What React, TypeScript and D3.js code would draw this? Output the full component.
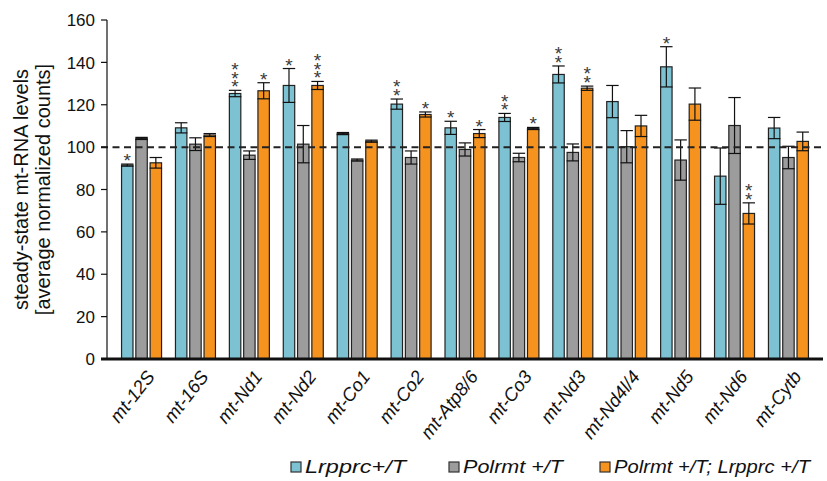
import React from 'react';
import * as d3 from 'd3';

const genes = ['mt-12S', 'mt-16S', 'mt-Nd1', 'mt-Nd2', 'mt-Co1', 'mt-Co2', 'mt-Atp8/6', 'mt-Co3', 'mt-Nd3', 'mt-Nd4l/4', 'mt-Nd5', 'mt-Nd6', 'mt-Cytb'];
const seriesNames = ['Lrpprc+/T', 'Polrmt +/T', 'Polrmt +/T; Lrpprc +/T'];
const seriesColors = ['#7dc2d2', '#9c9c9c', '#f6921e'];

// mean values per gene
const lrpprc = [91.5, 109.1, 125.3, 129.1, 106.4, 120.3, 109.1, 114, 134.3, 121.5, 137.9, 86.3, 109];
const polrmt = [104.1, 101.4, 96.2, 101.4, 93.9, 95.1, 98.9, 95.1, 97.5, 100.2, 93.9, 110.2, 95.1];
const double = [92.6, 105.7, 126.6, 129.1, 102.8, 115.4, 106.4, 108.8, 127.8, 110, 120.3, 68.7, 102.7];

// error (+/-)
const lrpprcErr = [0.5, 2.4, 1.5, 8, 0.5, 2.4, 3.1, 1.9, 4, 7.6, 9.5, 13.3, 5];
const polrmtErr = [0.5, 3, 2, 8.8, 0.5, 3.1, 3.1, 2, 4, 7.6, 9.5, 13.2, 5.3];
const doubleErr = [2.5, 0.7, 3.8, 1.9, 0.5, 1.2, 1.9, 0.5, 1, 5, 7.6, 5, 4.4];

// number of significance stars
const lrpprcStars = [1, 0, 3, 1, 0, 2, 1, 2, 2, 0, 1, 0, 0];
const polrmtStars = [0, 0, 0, 0, 0, 0, 0, 0, 0, 0, 0, 0, 0];
const doubleStars = [0, 0, 1, 3, 0, 1, 1, 1, 2, 0, 0, 2, 0];

const yTicks = [0, 20, 40, 60, 80, 100, 120, 140, 160];

const W = 827;
const H = 481;

export default function App() {
  const left = 107;
  const right = 823;
  const y = d3.scaleLinear().domain([0, 160]).range([359, 20]);
  const x0 = d3.scaleBand().domain(genes).range([left, right]).paddingInner(0.258).paddingOuter(0.27);
  const x1 = d3.scaleBand().domain(seriesNames).range([0, x0.bandwidth()]).paddingInner(0.2);

  const values = [lrpprc, polrmt, double];
  const errs = [lrpprcErr, polrmtErr, doubleErr];
  const stars = [lrpprcStars, polrmtStars, doubleStars];

  const font = 'Liberation Sans, Arial, Helvetica, sans-serif';
  const starSize = 19;

  return (
    <svg width={W} height={H} style={{ position: 'absolute', left: 0, top: 0 }} fontFamily={font}>
      <rect width={W} height={H} fill="#fff" />

      {/* bars */}
      {genes.map((g, gi) => (
        <g key={g} transform={`translate(${x0(g)},0)`}>
          {seriesNames.map((s, si) => {
            const v = values[si][gi];
            const e = errs[si][gi];
            const bx = x1(s)!;
            const bw = x1.bandwidth();
            const cx = bx + bw / 2;
            const top = y(v + e);
            const n = stars[si][gi];
            return (
              <g key={s}>
                <rect x={bx} y={y(v)} width={bw} height={y(0) - y(v)} fill={seriesColors[si]} stroke="#222" strokeWidth={1.2} />
                <line x1={cx} x2={cx} y1={y(v + e)} y2={y(v - e)} stroke="#111" strokeWidth={1.2} />
                <line x1={cx - bw / 2 - 0.5} x2={cx + bw / 2 + 0.5} y1={y(v + e)} y2={y(v + e)} stroke="#111" strokeWidth={1.2} />
                <line x1={cx - bw / 2 - 0.5} x2={cx + bw / 2 + 0.5} y1={y(v - e)} y2={y(v - e)} stroke="#111" strokeWidth={1.2} />
                {d3.range(n).map((k) => (
                  <text key={k} x={cx} y={top - 8 - k * 8.7 + starSize * 0.58} textAnchor="middle" fontSize={starSize} fill="#3a3a3a">*</text>
                ))}
              </g>
            );
          })}
        </g>
      ))}

      {/* reference line at 100 */}
      <line x1={101} x2={right} y1={y(100)} y2={y(100)} stroke="#222" strokeWidth={2} strokeDasharray="7 4.5" />

      {/* y axis */}
      <line x1={left} x2={left} y1={y(160)} y2={y(0)} stroke="#111" strokeWidth={1.2} />
      {yTicks.map((t) => (
        <g key={t} transform={`translate(${left},${y(t)})`}>
          <line x1={-6} x2={0} stroke="#111" strokeWidth={1.2} />
          <text x={-12} dy="0.36em" textAnchor="end" fontSize={17} fill="#111">{t}</text>
        </g>
      ))}
      {/* x axis */}
      <line x1={left - 6} x2={right} y1={y(0)} y2={y(0)} stroke="#111" strokeWidth={2.8} />

      {/* x labels */}
      {genes.map((g) => (
        <text
          key={g}
          transform={`translate(${x0(g)! + x0.bandwidth() / 2 + 14},${y(0) + 18}) rotate(-52)`}
          textAnchor="end"
          fontSize={18.5}
          fontStyle="italic"
          fill="#111"
        >
          {g}
        </text>
      ))}

      {/* y title */}
      <g transform={`translate(28,${(y(0) + y(160)) / 2}) rotate(-90)`}>
        <text textAnchor="middle" fontSize={20} fill="#111">steady-state mt-RNA levels</text>
        <text y={22} textAnchor="middle" fontSize={20} fill="#111">[average normalized counts]</text>
      </g>

      {/* legend */}
      {seriesNames.map((s, i) => {
        const lx = [291, 449, 600][i];
        const tl = [101, 100, 196][i];
        return (
          <g key={s} transform={`translate(${lx},462)`}>
            <rect width={10} height={10} fill={seriesColors[i]} stroke="#333" strokeWidth={1.2} />
            <text x={14} y={11} fontSize={19} fontStyle="italic" fill="#111" textLength={tl} lengthAdjust="spacingAndGlyphs">{s}</text>
          </g>
        );
      })}
    </svg>
  );
}
